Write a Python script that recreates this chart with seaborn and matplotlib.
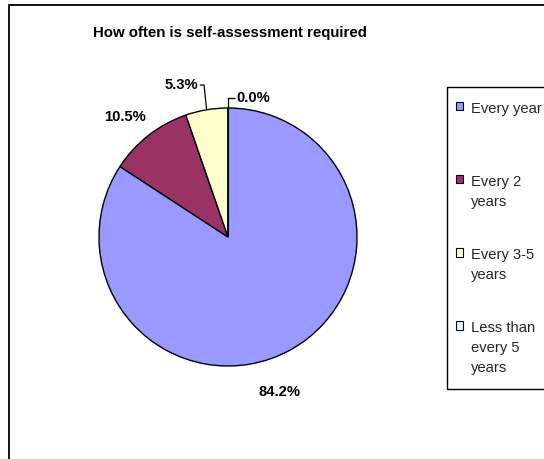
import matplotlib
matplotlib.use("Agg")
import matplotlib.pyplot as plt
from matplotlib.patches import Rectangle
import numpy as np
import seaborn as sns

# ---- data ----
categories = ["Every year", "Every 2\nyears", "Every 3-5\nyears", "Less than\nevery 5\nyears"]
values = [84.2, 10.5, 5.3, 0.0]
colors = ["#9999FF", "#993366", "#FFFFCC", "#CCFFFF"]
title = "How often is self-assessment required"

# ---- layout constants (data coords of the pie, radius = 1) ----
label_pos = [(0.40, -1.20), (-0.80, 0.93), (-0.23, 1.178), (0.065, 1.078)]
label_ha = ["center", "center", "right", "left"]
leader = [False, False, True, True]

sns.set_theme(style="white")
plt.rcParams["font.family"] = ["Liberation Sans", "DejaVu Sans"]

W, H = 544, 459
fig = plt.figure(figsize=(W / 100, H / 100), dpi=100)
fig.patch.set_facecolor("white")

cx, cy, R = 228, 237, 129
span = 1.4
ax = fig.add_axes([(cx - span * R) / W, (H - cy - span * R) / H, 2 * span * R / W, 2 * span * R / H])
wedges, _ = ax.pie(values, colors=colors, startangle=90, counterclock=False,
                   radius=1, wedgeprops=dict(edgecolor="black", linewidth=1.0))
ax.set_xlim(-span, span)
ax.set_ylim(-span, span)
ax.set_aspect("equal")
ax.axis("off")

total = sum(values)
for w, v, (lx, ly), ha, ld in zip(wedges, values, label_pos, label_ha, leader):
    ax.text(lx, ly, f"{v / total * 100:.1f}%", ha=ha, va="center",
            fontsize=10.6, fontweight="bold", color="black")
    if ld:
        mid = np.deg2rad((w.theta1 + w.theta2) / 2)
        ex, ey = np.cos(mid), np.sin(mid)
        if ha == "right":
            xs = [lx + 0.01, ex - 0.02, ex]
            ys = [ly, ly, ey]
        else:
            xs = [lx - 0.01, ex, ex]
            ys = [ly, ly, ey]
        ax.plot(xs, ys, color="black", lw=0.9, solid_capstyle="butt")

fig.text(230 / W, 1 - 32.5 / H, title, ha="center", va="center",
         fontsize=10.8, fontweight="bold", color="black")

# every legend entry gets the same number of lines, so entries sit in equal slots
nmax = max(c.count("\n") for c in categories)
leg_labels = [c + "\n" * (nmax - c.count("\n")) for c in categories]

# legend frame (decoration) drawn separately so the content can be placed freely
fig.add_artist(Rectangle((447 / W, 1 - 389 / H), 0.5, (389 - 87) / H,
                         transform=fig.transFigure, fill=False,
                         edgecolor="black", linewidth=1.0))

leg = fig.legend(wedges, leg_labels, loc="upper left",
                 bbox_to_anchor=(455.5 / W, 1 - 102 / H), bbox_transform=fig.transFigure,
                 borderaxespad=0, frameon=False, fancybox=False, shadow=False,
                 fontsize=10.6, handlelength=0.5, handleheight=0.5,
                 handletextpad=0.55, borderpad=0.0, labelspacing=1.29)
for t in leg.get_texts():
    t.set_linespacing(1.55)
for h in leg.legend_handles:
    h.set_edgecolor("black")
    h.set_linewidth(0.8)
for col in leg._legend_handle_box.get_children():
    for item in col.get_children():
        item.align = "top"

fig.add_artist(Rectangle((9 / W, -0.1), 1.2, 1.1 - 5 / H, transform=fig.transFigure,
                         fill=False, edgecolor="black", linewidth=1.3))

fig.savefig("out.png", dpi=100)
